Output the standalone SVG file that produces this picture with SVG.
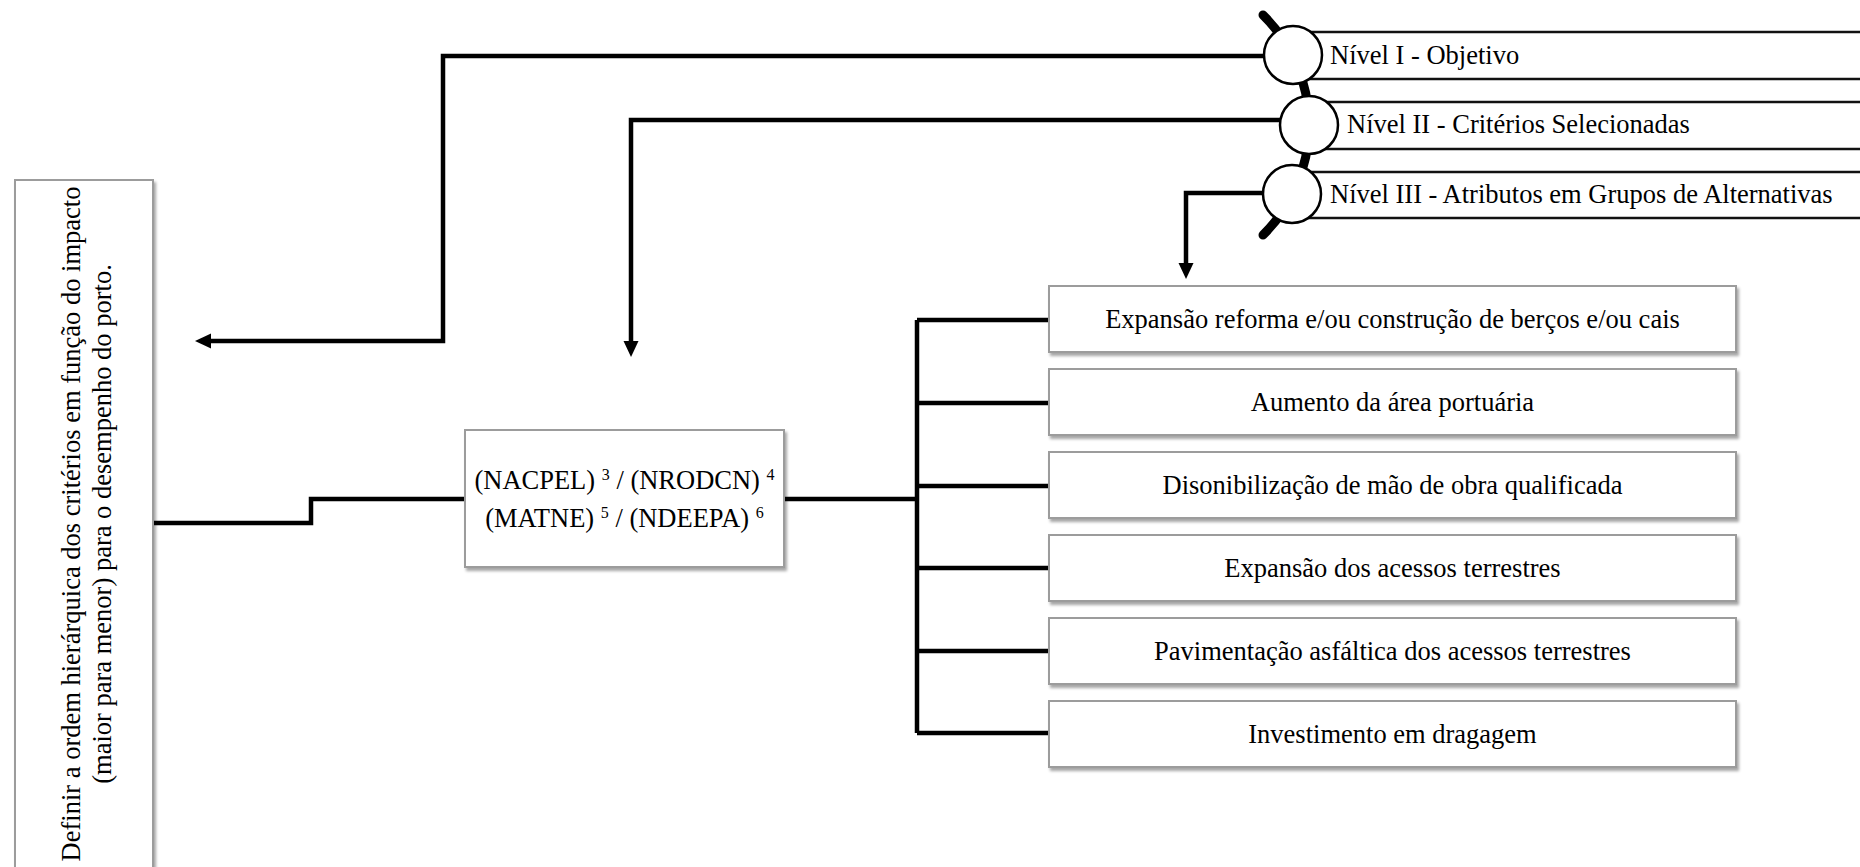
<svg xmlns="http://www.w3.org/2000/svg" width="1860" height="867" viewBox="0 0 1860 867">
  <style>
    text { font-family: "Liberation Serif", "Times New Roman", serif; font-size: 26.5px; fill: #000; }
    .box { fill: #fff; stroke: #9c9c9c; stroke-width: 2; filter: url(#shadow); }
    .label { text-anchor: middle; }
    .sup { font-size: 16px; }
    .wire { fill: none; stroke: #000; stroke-width: 4.5; stroke-linejoin: miter; }
    .arrow { marker-end: url(#head); }
    .spine { fill: none; stroke: #000; stroke-width: 9; stroke-linecap: round; }
    .band { fill: none; stroke: #111; stroke-width: 2.5; }
    .dot { fill: #fff; stroke: #000; stroke-width: 2.5; }
  </style>
  <defs>
    <filter id="shadow" x="-10%" y="-10%" width="130%" height="140%">
      <feDropShadow dx="2" dy="3" stdDeviation="1.6" flood-color="#000" flood-opacity="0.35"/>
    </filter>
    <marker id="head" markerUnits="userSpaceOnUse" markerWidth="17" markerHeight="16" refX="0" refY="7.5" orient="auto">
      <path d="M0,0 L16,7.5 L0,15 Z" fill="#000"/>
    </marker>
  </defs>

  <rect width="1860" height="867" fill="#fff"/>

  <!-- level legend: curved spine, bands, circles and captions -->
  <g id="levels">
    <path class="spine" d="M1263,15 A154.5,154.5 0 0 1 1263,235"/>
    <g id="level-1">
      <path class="band" d="M1293,32 H1860 M1293,79 H1860"/>
      <circle class="dot" cx="1293" cy="55" r="29"/>
      <text x="1330" y="64">Nível I - Objetivo</text>
    </g>
    <g id="level-2">
      <path class="band" d="M1309,102 H1860 M1309,149 H1860"/>
      <circle class="dot" cx="1309" cy="125" r="29"/>
      <text x="1347" y="133">Nível II - Critérios Selecionadas</text>
    </g>
    <g id="level-3">
      <path class="band" d="M1292,172 H1860 M1292,218 H1860"/>
      <circle class="dot" cx="1292" cy="194" r="29"/>
      <text x="1330" y="203">Nível III - Atributos em Grupos de Alternativas</text>
    </g>
  </g>

  <!-- connectors -->
  <g id="connectors">
    <path class="wire arrow" d="M1264,56 H443 V341 H211"/>
    <path class="wire arrow" d="M1281,120 H631 V341"/>
    <path class="wire arrow" d="M1263,193 H1186 V263"/>
    <path class="wire" d="M153,523 H311 V499 H465"/>
    <path class="wire" d="M784,499 H917"/>
    <path class="wire" d="M917,320 V733"/>
    <path class="wire" d="M917,320 H1049 M917,403 H1049 M917,486 H1049 M917,568 H1049 M917,651 H1049 M917,733 H1049"/>
  </g>

  <!-- goal box (rotated caption) -->
  <g id="goal">
    <rect class="box" x="15" y="180" width="138" height="720"/>
    <text class="label" transform="translate(80,524) rotate(-90)">Definir a ordem hierárquica dos critérios em função do impacto</text>
    <text class="label" transform="translate(111,524) rotate(-90)">(maior para menor) para o desempenho do porto.</text>
  </g>

  <!-- criteria box -->
  <g id="criteria">
    <rect class="box" x="465" y="430" width="319" height="137"/>
    <text class="label" x="624.5" y="489">(NACPEL) <tspan class="sup" dy="-9">3</tspan><tspan dy="9"> / (NRODCN) </tspan><tspan class="sup" dy="-9">4</tspan></text>
    <text class="label" x="624.5" y="527">(MATNE) <tspan class="sup" dy="-9">5</tspan><tspan dy="9"> / (NDEEPA) </tspan><tspan class="sup" dy="-9">6</tspan></text>
  </g>

  <!-- alternatives -->
  <g id="alt-1">
    <rect class="box" x="1049" y="286" width="687" height="66"/>
    <text class="label" x="1392.5" y="328">Expansão reforma e/ou construção de berços e/ou cais</text>
  </g>
  <g id="alt-2">
    <rect class="box" x="1049" y="369" width="687" height="66"/>
    <text class="label" x="1392.5" y="411">Aumento da área portuária</text>
  </g>
  <g id="alt-3">
    <rect class="box" x="1049" y="452" width="687" height="66"/>
    <text class="label" x="1392.5" y="494">Disonibilização de mão de obra qualificada</text>
  </g>
  <g id="alt-4">
    <rect class="box" x="1049" y="535" width="687" height="66"/>
    <text class="label" x="1392.5" y="577">Expansão dos acessos terrestres</text>
  </g>
  <g id="alt-5">
    <rect class="box" x="1049" y="618" width="687" height="66"/>
    <text class="label" x="1392.5" y="660">Pavimentação asfáltica dos acessos terrestres</text>
  </g>
  <g id="alt-6">
    <rect class="box" x="1049" y="701" width="687" height="66"/>
    <text class="label" x="1392.5" y="743">Investimento em dragagem</text>
  </g>
</svg>
